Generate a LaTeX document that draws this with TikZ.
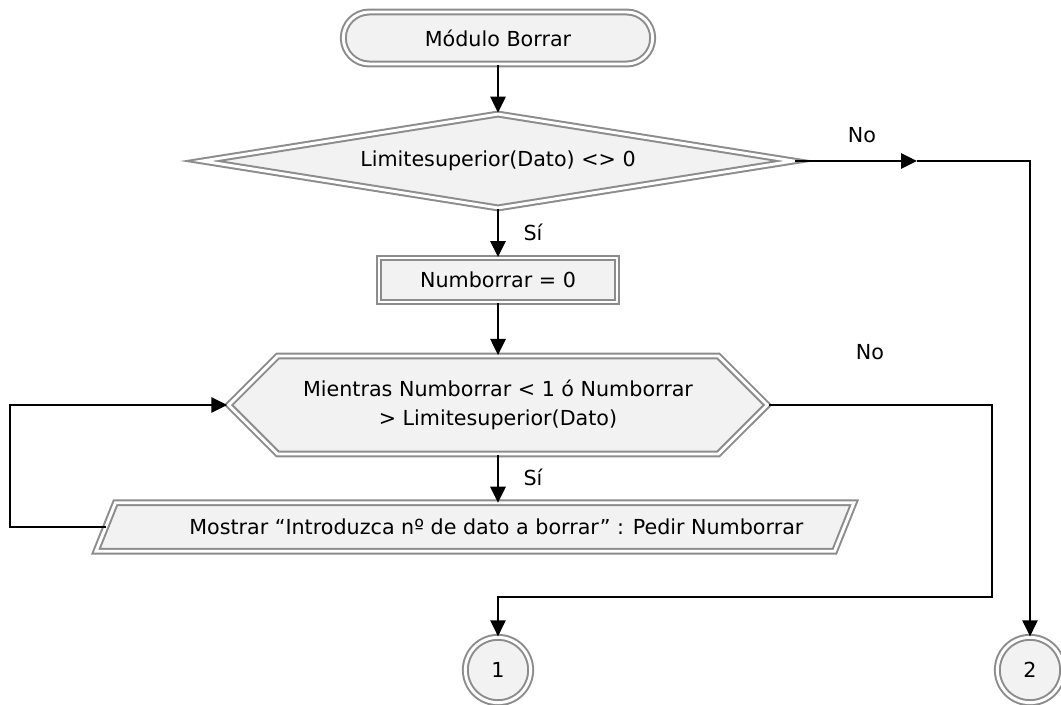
\documentclass[tikz,border=0pt]{standalone}
\usepackage{fontspec}
\setmainfont{DejaVu Sans}
\usetikzlibrary{shapes.geometric,shapes.misc,shapes.symbols,arrows.meta,backgrounds}
\begin{document}
\begin{tikzpicture}[x=0.75pt,y=-0.75pt,
  boxline/.style={draw=black!45, double=white, double distance=2.2pt, line width=1.5pt, fill=black!5},
  box/.style={boxline, inner sep=0pt, align=center,
    font=\fontsize{15.5pt}{21.5pt}\selectfont},
  plain/.style={inner sep=0pt, align=center, font=\fontsize{15.5pt}{21.5pt}\selectfont},
  arr/.style={-{Triangle[length=12pt,width=11.5pt]}, line width=1.3pt, black},
  lbl/.style={font=\fontsize{15.5pt}{18pt}\selectfont}]
\useasboundingbox (0,0) rectangle (1061,704);
% shapes
\node[box, rounded rectangle, minimum width=232pt, minimum height=39pt] (t) at (498,38) {Módulo Borrar};
\node[box, diamond, aspect=6, minimum width=444pt, minimum height=71pt] (d) at (498,161) {Limitesuperior(Dato) <> 0};
\node[box, rectangle, minimum width=178.5pt, minimum height=33pt] (r) at (498,280) {Numborrar = 0};
\node[box, signal, signal to=west and east, signal pointer angle=90, minimum width=404pt, minimum height=73.5pt] (h) at (498,405) {Mientras Numborrar < 1 ó Numborrar\\> Limitesuperior(Dato)};
% parallelogram: node for the text, outline drawn from its anchors behind it
\node[plain, minimum width=553.5pt, minimum height=36pt] (p) at (475,527) {\hspace*{32pt}Mostrar “Introduzca nº de dato a borrar” : Pedir Numborrar};
\begin{scope}[on background layer]
\draw[boxline] ([xshift=-7.3pt]p.south west) -- ([xshift=7.3pt]p.north west) -- ([xshift=7.3pt]p.north east) -- ([xshift=-7.3pt]p.south east) -- cycle;
\end{scope}
\node[box, circle, minimum size=49pt] (c1) at (498,670) {1};
\node[box, circle, minimum size=49pt] (c2) at (1030,670) {2};
% helper coordinates
\coordinate (m1) at (917,161);
\coordinate (lx) at (10,0);
\coordinate (k1) at (992,597);
% connectors
\draw[arr] (t) -- (d);
\draw[arr] (d) -- (r);
\draw[arr] (r) -- (h);
\draw[arr] (h.south) -- (h.south |- p.north);
\draw[arr] (d.east) -- (m1);
\draw[arr] (m1) -| (c2.north);
\draw[arr] (p.west) -- (lx |- p.west) |- (h.west);
\draw[arr] (h.east) -| (k1) -| (c1.north);
% labels
\node[lbl] (l1) at (862,135) {No};
\node[lbl] (l2) at (533,232) {Sí};
\node[lbl] (l3) at (870,352) {No};
\node[lbl] (l4) at (533,477) {Sí};
\end{tikzpicture}
\end{document}
